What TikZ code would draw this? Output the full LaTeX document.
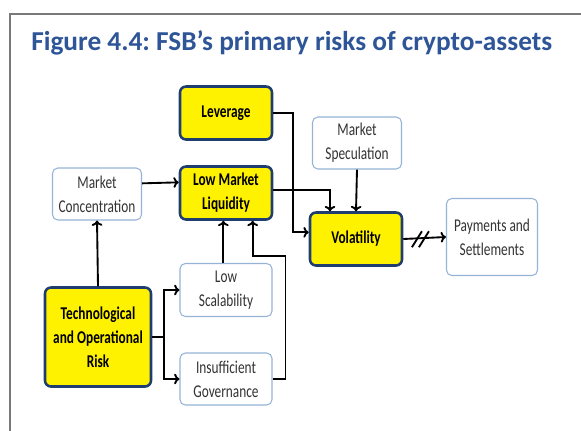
\documentclass[tikz,border=0pt]{standalone}
\usepackage{fontspec}
\setmainfont{Carlito}
\newfontfamily\boxfont[FakeStretch=0.74]{Carlito}
\usepackage{xcolor}
\usepackage{tikz}
\usetikzlibrary{positioning,arrows.meta,calc}
\definecolor{titleblue}{HTML}{2E5597}
\definecolor{risknavy}{HTML}{1F3D6E}
\definecolor{paleblue}{HTML}{95B3D7}
\definecolor{boxtext}{HTML}{333333}
\frenchspacing

\begin{document}
\begin{tikzpicture}[x=0.75pt, y=-0.75pt,
  risk/.style={draw=risknavy, line width=1.9pt, fill=yellow, rounded corners=4.5pt,
               minimum width=69pt, minimum height=39.75pt, inner sep=1pt, align=center,
               font=\boxfont\bfseries\fontsize{13.5pt}{18pt}\selectfont},
  factor/.style={draw=paleblue, line width=0.8pt, fill=white, rounded corners=4pt,
                 minimum width=69pt, minimum height=39pt, inner sep=1pt, align=center,
                 text=boxtext, font=\boxfont\fontsize{13.5pt}{18pt}\selectfont},
  arr/.style={-{To[length=4pt,width=8pt]}, line width=1.4pt, black},
  frame/.style={draw=gray!95!black, line width=1.5pt},
]
\useasboundingbox (0,0) rectangle (581,430);
\draw[frame] (10,431) -- (10,14) -- (582,14);
\node[anchor=base west, text=titleblue, inner sep=0pt,
      font=\bfseries\fontsize{20.5pt}{24pt}\selectfont] (title) at (31,50)
  {Figure 4.4: FSB’s primary risks of crypto-assets};

% yellow risk boxes
\node[risk] (Lev) at (226,113) {Leverage};
\node[risk] (LML) at (226,193) {Low Market\\Liquidity};
\node[risk] (Vol) at (356,239) {Volatility};
\node[risk, minimum width=79.5pt, minimum height=74.25pt] (TOR) at (98,337)
  {Technological\\and Operational\\Risk};

% white factor boxes
\node[factor, minimum width=66.75pt] (MC) at (97,194) {Market\\Concentration};
\node[factor, minimum width=66.75pt] (MS) at (357,143) {Market\\Speculation};
\node[factor, minimum height=39.75pt] (LS) at (226,290) {Low\\Scalability};
\node[factor] (IG) at (226,379) {Insufficient\\Governance};
\node[factor, minimum width=68.25pt, minimum height=57.75pt] (PS) at (492,237)
  {Payments and\\Settlements};

% connectors
\draw[arr] ([yshift=8pt]MC.east) -- ([yshift=8pt]LML.west);
\draw[arr] (TOR.north) -- (MC.south);
\draw[arr] (TOR.east) -- ++(12,0) |- (LS.west);
\draw[arr] (TOR.east) -- ++(12,0) |- (IG.west);
\draw[arr] ([xshift=-2pt]LS.north) -- ([xshift=-2pt]LML.south);
\draw[arr] (IG.east) -- ++(13,0) -- ++(0,-123) -| ([xshift=20pt]LML.south);
\draw[arr] (Lev.east) -- ++(20,0) |- ([yshift=5pt]Vol.west);
\draw[arr] ([yshift=2pt]LML.east) -| ([xshift=-19.5pt]Vol.north);
\draw[arr] (MS.south) -- (Vol.north);
\draw[arr] (Vol.east) -- coordinate[pos=0.39] (brk) (PS.west);
\draw[line width=1.4pt] ([shift={(-8,9)}]brk) -- ([shift={(2,-7)}]brk);
\draw[line width=1.4pt] ([shift={(-1,9)}]brk) -- ([shift={(9,-7)}]brk);
\end{tikzpicture}
\end{document}
